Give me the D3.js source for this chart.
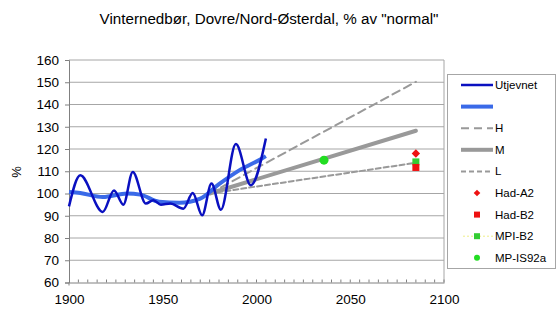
<!DOCTYPE html>
<html><head><meta charset="utf-8">
<script src="https://cdn.jsdelivr.net/npm/d3@7"></script>
<style>body{margin:0;background:#fff}svg{display:block;font-family:"Liberation Sans",Arial,sans-serif}</style>
</head><body><svg id="c" width="560" height="322"></svg>
<script>
const title = 'Vinternedbør, Dovre/Nord-Østerdal, % av "normal"';
const yTicks = [60,70,80,90,100,110,120,130,140,150,160];
const xTicks = [1900,1950,2000,2050,2100];
const utjYears = [1900,1906,1918,1924,1929,1934,1941,1945,1949,1954,1961,1966,1971,1976,1981,1989,1997,2005];
const utjVals  = [94.2,108.2,91.7,101.4,95,109.7,95.5,97,95,95.5,93.2,100.2,90.2,104.5,92.7,122.2,103.7,124.7];
const smoothYears = [1900,1906,1918,1931,1938,1948,1959,1970,1980,1991,2002,2005];
const smoothVals  = [100.7,100.2,98.4,100,99.5,96.3,95.8,97.7,104.2,110.5,115.3,116.8];
const projYears = [1975,2085];
const H = [100,150.2];
const M = [100,128.2];
const L = [100,113.8];
const hadA2 = {year:2085, value:118};
const hadB2 = {year:2085, value:111.7};
const mpiB2 = {year:2085, value:114.2};
const mpIS92a = {year:2036, value:115};
const legendLabels = ["Utjevnet","","H","M","L","Had-A2","Had-B2","MPI-B2","MP-IS92a"];

const svg = d3.select("#c");
const x = d3.scaleLinear().domain([1900,2100]).range([69,444]);
const y = d3.scaleLinear().domain([60,160]).range([282.5,60]);

svg.append("text").attr("x",269).attr("y",24).attr("text-anchor","middle")
  .attr("font-size",15.2).attr("fill","#000").text(title);

// grid
svg.append("g").selectAll("line").data(yTicks.slice(1)).join("line")
  .attr("x1",69).attr("x2",444).attr("y1",d=>y(d)).attr("y2",d=>y(d))
  .attr("stroke","#a6a6a6").attr("stroke-width",1);
svg.append("line").attr("x1",444).attr("x2",444).attr("y1",y(160)).attr("y2",y(60)).attr("stroke","#a6a6a6");

// y axis
const ya = svg.append("g").attr("transform","translate(69,0)")
  .call(d3.axisLeft(y).tickValues(yTicks).tickSize(4).tickPadding(6));
ya.select(".domain").attr("stroke","#808080");
ya.selectAll(".tick line").attr("stroke","#808080");
ya.selectAll("text").attr("font-size",13.5).attr("fill","#000").attr("font-family","Liberation Sans, Arial");

// x axis
const xa = svg.append("g").attr("transform",`translate(0,${y(60)})`)
  .call(d3.axisBottom(x).tickValues(xTicks).tickFormat(d3.format("d")).tickSize(0).tickPadding(12));
xa.select(".domain").attr("stroke","#808080");
xa.selectAll("text").attr("font-size",13.5).attr("fill","#000").attr("font-family","Liberation Sans, Arial");
svg.append("g").selectAll("line").data(d3.range(1905,2101,5)).join("line")
  .attr("x1",d=>x(d)).attr("x2",d=>x(d)).attr("y1",y(60)).attr("y2",y(60)-3)
  .attr("stroke","#808080");
svg.append("line").attr("x1",69).attr("x2",69).attr("y1",y(60)).attr("y2",y(60)+3).attr("stroke","#808080");

svg.append("text").attr("transform","translate(21,172) rotate(-90)").attr("text-anchor","middle")
  .attr("font-size",13).text("%");

const line = d3.line().x(d=>x(d[0])).y(d=>y(d[1]));
const proj = [[H,"8,5",2],[M,null,4],[L,"5,3",2]];
proj.forEach(([v,dash,w])=>{
  svg.append("path").datum(projYears.map((yr,i)=>[yr,v[i]])).attr("d",line)
    .attr("fill","none").attr("stroke","#999").attr("stroke-width",w)
    .attr("stroke-dasharray",dash).attr("stroke-linecap","round");
});
svg.append("path").datum(smoothYears.map((yr,i)=>[yr,smoothVals[i]]))
  .attr("d",d3.line().x(d=>x(d[0])).y(d=>y(d[1])).curve(d3.curveMonotoneX))
  .attr("fill","none").attr("stroke","#3a6ae8").attr("stroke-width",4);
svg.append("path").datum(utjYears.map((yr,i)=>[yr,utjVals[i]]))
  .attr("d",d3.line().x(d=>x(d[0])).y(d=>y(d[1])).curve(d3.curveMonotoneX))
  .attr("fill","none").attr("stroke","#0a10c0").attr("stroke-width",2.5);

// markers
const diamond = s => `M0,${-s}L${s},0L0,${s}L${-s},0Z`;
svg.append("rect").attr("x",x(mpiB2.year)-3.5).attr("y",y(mpiB2.value)-3.5).attr("width",7).attr("height",7).attr("fill","#33cc33");
svg.append("rect").attr("x",x(hadB2.year)-3.5).attr("y",y(hadB2.value)-3.5).attr("width",7).attr("height",7).attr("fill","#ee1111");
svg.append("path").attr("d",diamond(4.2)).attr("transform",`translate(${x(hadA2.year)},${y(hadA2.value)})`).attr("fill","#ee1111");
svg.append("circle").attr("cx",x(mpIS92a.year)).attr("cy",y(mpIS92a.value)).attr("r",4.5).attr("fill","#22dd22");

// legend
svg.append("rect").attr("x",447.5).attr("y",74.5).attr("width",108).attr("height",194)
  .attr("fill","#fff").attr("stroke","#a6a6a6");
const lg = svg.append("g");
const rowY = i => 85 + i*21.6;
legendLabels.forEach((t,i)=>{
  lg.append("text").attr("x",495).attr("y",rowY(i)+4).attr("font-size",11.5).attr("fill","#000").text(t);
});
lg.append("line").attr("x1",461).attr("x2",493).attr("y1",rowY(0)).attr("y2",rowY(0)).attr("stroke","#0a10c0").attr("stroke-width",2.5);
lg.append("line").attr("x1",461).attr("x2",493).attr("y1",rowY(1)).attr("y2",rowY(1)).attr("stroke","#3a6ae8").attr("stroke-width",4);
lg.append("line").attr("x1",461).attr("x2",493).attr("y1",rowY(2)).attr("y2",rowY(2)).attr("stroke","#999").attr("stroke-width",2).attr("stroke-dasharray","8,5");
lg.append("line").attr("x1",461).attr("x2",493).attr("y1",rowY(3)).attr("y2",rowY(3)).attr("stroke","#999").attr("stroke-width",4);
lg.append("line").attr("x1",461).attr("x2",493).attr("y1",rowY(4)).attr("y2",rowY(4)).attr("stroke","#999").attr("stroke-width",2).attr("stroke-dasharray","5,3");
lg.append("path").attr("d",diamond(3.3)).attr("transform",`translate(477,${rowY(5)})`).attr("fill","#ee1111");
lg.append("rect").attr("x",474).attr("y",rowY(6)-3).attr("width",6).attr("height",6).attr("fill","#ee1111");
lg.append("line").attr("x1",463).attr("x2",495).attr("y1",rowY(7)).attr("y2",rowY(7)).attr("stroke","#eeee88").attr("stroke-width",1).attr("stroke-dasharray","2,2");
lg.append("rect").attr("x",474).attr("y",rowY(7)-3).attr("width",6).attr("height",6).attr("fill","#33cc33");
lg.append("circle").attr("cx",477).attr("cy",rowY(8)).attr("r",3).attr("fill","#22dd22");
</script></body></html>
